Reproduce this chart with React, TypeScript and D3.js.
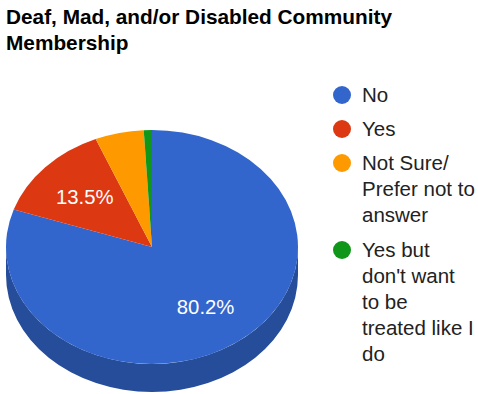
import React from "react";
import * as d3 from "d3";

const categories = ["No", "Yes", "Not Sure/ Prefer not to answer", "Yes but don't want to be treated like I do"];
const legendLines = [["No"], ["Yes"], ["Not Sure/", "Prefer not to", "answer"], ["Yes but", "don't want", "to be", "treated like I", "do"]];
const values = [80.2, 13.5, 5.4, 0.9];
const colors = ["#3366cc", "#dc3912", "#ff9900", "#109618"];
const sideColors = ["#264d99", "#a52b0e", "#bf7300", "#0c7012"];
const titleLines = ["Deaf, Mad, and/or Disabled Community", "Membership"];

const W = 478, H = 394;
const cx = 152, cy = 247, rx = 146, ry = 117, depth = 28;
const FONT = "'Liberation Sans', Arial, sans-serif";

function pt(a: number, dy = 0): [number, number] {
  return [cx + rx * Math.sin(a), cy - ry * Math.cos(a) + dy];
}

export default function App() {
  const pie = d3.pie<number>().sort(null).startAngle(0).endAngle(2 * Math.PI);
  const arcs = pie(values);
  const total = d3.sum(values);

  const sides: JSX.Element[] = [];
  arcs.forEach((a, i) => {
    const lo = Math.max(a.startAngle, Math.PI / 2);
    const hi = Math.min(a.endAngle, (3 * Math.PI) / 2);
    if (hi <= lo) return;
    const [x0, y0] = pt(lo);
    const [x1, y1] = pt(hi);
    const [x2, y2] = pt(hi, depth);
    const [x3, y3] = pt(lo, depth);
    const large = hi - lo > Math.PI ? 1 : 0;
    const d = `M${x0},${y0} A${rx},${ry} 0 ${large} 1 ${x1},${y1} L${x2},${y2} A${rx},${ry} 0 ${large} 0 ${x3},${y3} Z`;
    sides.push(<path key={"s" + i} d={d} fill={sideColors[i]} />);
  });

  const tops = arcs.map((a, i) => {
    const [x0, y0] = pt(a.startAngle);
    const [x1, y1] = pt(a.endAngle);
    const large = a.endAngle - a.startAngle > Math.PI ? 1 : 0;
    const d = `M${cx},${cy} L${x0},${y0} A${rx},${ry} 0 ${large} 1 ${x1},${y1} Z`;
    return <path key={"t" + i} d={d} fill={colors[i]} />;
  });

  const labels = arcs.map((a, i) => {
    const pct = (values[i] / total) * 100;
    if (pct < 10) return null;
    const mid = (a.startAngle + a.endAngle) / 2;
    const x = cx + rx * 0.63 * Math.sin(mid);
    const y = cy - ry * 0.63 * Math.cos(mid);
    return (
      <text key={"l" + i} x={x} y={y} dy="0.36em" textAnchor="middle" fill="#ffffff" fontSize={20.3} fontFamily={FONT}>
        {pct.toFixed(1) + "%"}
      </text>
    );
  });

  const legendY = [95, 129, 163, 250];

  return (
    <svg width={W} height={H} style={{ position: "absolute", left: 0, top: 0 }}>
      <rect width={W} height={H} fill="#ffffff" />
      {titleLines.map((t, i) => (
        <text key={t} x={6} y={24 + i * 26} fontSize={20.8} fontWeight="bold" fontFamily={FONT} fill="#000000">
          {t}
        </text>
      ))}
      {sides}
      {tops}
      {labels}
      {categories.map((c, i) => (
        <g key={c}>
          <circle cx={342} cy={legendY[i]} r={9} fill={colors[i]} />
          {legendLines[i].map((ln, j) => (
            <text key={j} x={362} y={legendY[i] + 7 + j * 26} fontSize={20.5} fontFamily={FONT} fill="#222222">
              {ln}
            </text>
          ))}
        </g>
      ))}
    </svg>
  );
}
